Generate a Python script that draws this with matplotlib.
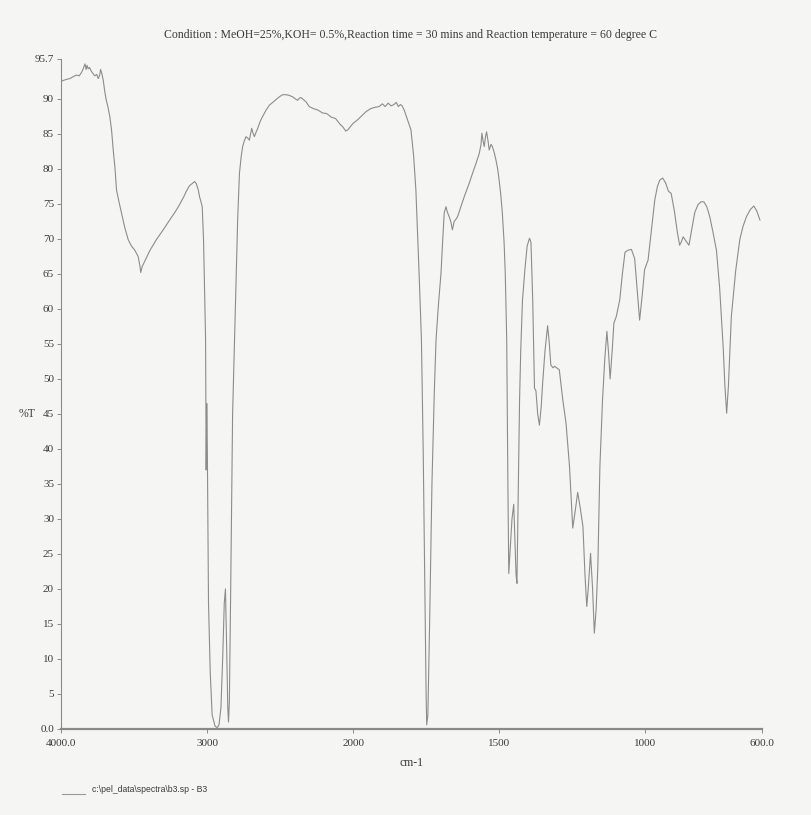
import numpy as np
import matplotlib
matplotlib.use("Agg")
import matplotlib.pyplot as plt
from matplotlib.lines import Line2D

# IR spectrum (wavenumber cm-1, %T)
wavenumber = [3990, 3960, 3939, 3915, 3893, 3875, 3859, 3848, 3836, 3828, 3822, 3814, 3805, 3791,
              3780, 3768, 3755, 3745, 3735, 3729, 3720, 3711, 3700, 3690, 3680, 3666, 3654, 3642,
              3631, 3620, 3603, 3586, 3563, 3540, 3518, 3495, 3472, 3460, 3454, 3445, 3427, 3390,
              3347, 3300, 3256, 3220, 3188, 3160, 3142, 3120, 3097, 3085, 3074, 3060, 3051, 3040,
              3033, 3028, 3024, 3016, 3010, 3006, 3002, 2998, 2990, 2978, 2965, 2945, 2930, 2918,
              2905, 2893, 2882, 2874, 2866, 2858, 2853, 2847, 2838, 2825, 2812, 2801, 2790, 2778,
              2766, 2756, 2745, 2733, 2721, 2710, 2702, 2694, 2685, 2676, 2665, 2653, 2636, 2619,
              2596, 2573, 2550, 2528, 2505, 2483, 2460, 2437, 2414, 2395, 2380, 2368, 2357, 2340,
              2323, 2300, 2270, 2240, 2210, 2180, 2150, 2120, 2090, 2070, 2050, 2035, 2020, 2000,
              1985, 1970, 1955, 1940, 1925, 1911, 1900, 1890, 1880, 1870, 1860, 1852, 1845, 1838,
              1832, 1825, 1815, 1802, 1793, 1785, 1774, 1766, 1760, 1755, 1750, 1748, 1744, 1738,
              1730, 1722, 1716, 1708, 1699, 1693, 1688, 1682, 1677, 1671, 1665, 1660, 1654, 1648,
              1642, 1631, 1618, 1602, 1590, 1579, 1568, 1562, 1559, 1555, 1551, 1547, 1543, 1538,
              1534, 1528, 1523, 1516, 1511, 1505, 1500, 1494, 1489, 1483, 1479, 1474, 1470, 1467,
              1463, 1456, 1450, 1446, 1442, 1439, 1434, 1430, 1426, 1420, 1415, 1411, 1404, 1396,
              1391, 1385, 1379, 1374, 1368, 1362, 1356, 1351, 1343, 1334, 1328, 1323, 1316, 1310,
              1300, 1294, 1282, 1271, 1259, 1248, 1240, 1231, 1222, 1213, 1206, 1200, 1195, 1187,
              1180, 1174, 1168, 1162, 1155, 1146, 1138, 1131, 1125, 1120, 1113, 1107, 1099, 1087,
              1078, 1069, 1058, 1047, 1036, 1028, 1019, 1010, 1002, 990, 978, 967, 958, 950,
              940, 930, 920, 911, 900, 890, 882, 876, 870, 862, 850, 840, 830, 819,
              809, 799, 789, 779, 768, 756, 745, 733, 727, 721, 715, 705, 690, 676,
              665, 653, 640, 628, 618, 607]
transmittance = [92.6, 92.8, 92.9, 93.2, 93.4, 93.3, 93.8, 94.3, 95.0, 94.2, 94.8, 94.3, 94.5, 93.9,
                 93.6, 93.3, 93.5, 92.9, 93.4, 94.2, 93.6, 92.7, 91.0, 89.8, 89.0, 87.5, 85.6, 82.6,
                 80.3, 77.0, 75.3, 73.7, 71.6, 69.9, 69.0, 68.4, 67.5, 66.2, 65.2, 66.0, 66.8, 68.4,
                 69.9, 71.3, 72.7, 73.8, 74.9, 76.0, 76.8, 77.6, 78.0, 78.2, 77.9, 77.0, 76.0, 75.2,
                 74.6, 72.0, 69.9, 62.0, 55.6, 37.0, 46.5, 40.0, 18.0, 8.0, 2.0, 0.4, 0.2, 0.6,
                 3.0, 10.0, 18.0, 20.0, 12.0, 3.0, 1.0, 4.0, 20.0, 45.0, 55.6, 65.1, 73.0, 79.4,
                 81.8, 83.2, 84.0, 84.6, 84.4, 84.1, 85.0, 85.8, 85.1, 84.6, 85.2, 85.8, 86.8, 87.5,
                 88.4, 89.1, 89.5, 89.9, 90.3, 90.6, 90.6, 90.5, 90.3, 90.0, 89.8, 90.1, 90.2, 89.9,
                 89.6, 88.9, 88.6, 88.4, 88.0, 87.9, 87.4, 87.2, 86.4, 86.0, 85.4, 85.6, 86.0, 86.5,
                 87.0, 87.6, 88.2, 88.6, 88.8, 88.9, 89.3, 88.9, 89.4, 89.0, 89.2, 89.5, 88.9, 89.2,
                 89.0, 88.4, 87.2, 85.6, 82.0, 77.0, 65.1, 55.6, 40.0, 22.0, 5.0, 0.6, 2.0, 15.0,
                 35.0, 48.0, 55.6, 60.5, 65.1, 70.0, 73.7, 74.6, 73.8, 73.2, 72.4, 71.3, 72.5, 72.8,
                 73.2, 74.6, 76.2, 78.0, 79.5, 80.8, 82.2, 83.5, 85.1, 84.0, 83.2, 84.5, 85.3, 84.0,
                 82.7, 83.5, 83.2, 82.2, 81.3, 80.0, 78.4, 76.2, 73.7, 69.5, 65.1, 55.6, 35.0, 22.2,
                 25.0, 30.0, 32.1, 27.0, 22.0, 20.8, 35.0, 47.0, 54.1, 61.3, 64.0, 66.0, 69.0, 70.1,
                 69.5, 61.3, 48.7, 48.3, 45.0, 43.4, 46.0, 49.4, 54.0, 57.6, 55.0, 52.0, 51.6, 51.8,
                 51.5, 51.3, 47.0, 43.7, 37.5, 28.7, 31.0, 33.8, 31.5, 28.9, 22.0, 17.5, 20.0, 25.1,
                 20.0, 13.7, 17.0, 23.2, 37.5, 47.0, 53.0, 56.8, 53.5, 50.0, 54.0, 58.0, 58.9, 61.3,
                 65.0, 68.1, 68.4, 68.5, 67.2, 63.0, 58.4, 62.0, 65.6, 67.0, 71.5, 75.6, 77.5, 78.4,
                 78.7, 78.0, 76.8, 76.5, 74.0, 71.0, 69.1, 69.6, 70.3, 69.8, 69.1, 71.5, 73.8, 74.9,
                 75.3, 75.3, 74.6, 73.2, 71.0, 68.4, 63.0, 54.6, 49.0, 45.1, 49.0, 58.9, 65.5, 69.9,
                 71.8, 73.2, 74.2, 74.7, 74.0, 72.7]

x_ticks = [4000, 3000, 2000, 1500, 1000, 600]
x_labels = ["4000.0", "3000", "2000", "1500", "1000", "600.0"]
y_ticks = [0, 5, 10, 15, 20, 25, 30, 35, 40, 45, 50, 55, 60, 65, 70, 75, 80, 85, 90, 95.7]
y_labels = ["0.0"] + [str(v) for v in y_ticks[1:-1]] + ["95.7"]

title = "Condition : MeOH=25%,KOH= 0.5%,Reaction time = 30 mins and Reaction temperature = 60 degree C"
footer = "c:\\pel_data\\spectra\\b3.sp - B3"


# the instrument doubles the scale below 2000 cm-1
def fwd(x):
    x = np.asarray(x, dtype=float)
    return np.where(x >= 2000, x, 2 * x - 2000)


def inv(p):
    p = np.asarray(p, dtype=float)
    return np.where(p >= 2000, p, (p + 2000) / 2)


paper = "#f5f5f4"
ink = "#3a3a3a"
serif = "Liberation Serif"

fig = plt.figure(figsize=(8.12, 8.15), dpi=100, facecolor=paper)
ax = fig.add_axes([61 / 812, 1 - 729 / 815, 701 / 812, 670 / 815])
ax.set_facecolor(paper)

ax.plot(wavenumber, transmittance, color="#8c8c8c", lw=0.8)

ax.set_xscale("function", functions=(fwd, inv))
ax.set_xlim(4000, 600)
ax.set_ylim(0, 95.7)

ax.set_xticks(x_ticks)
ax.set_xticklabels(x_labels)
ax.set_yticks(y_ticks)
ax.set_yticklabels(y_labels)
ax.minorticks_off()

for s in ["top", "right"]:
    ax.spines[s].set_visible(False)
ax.spines["left"].set_color("#8a8a8a")
ax.spines["left"].set_linewidth(0.8)
ax.spines["bottom"].set_color("#8a8a8a")
ax.spines["bottom"].set_linewidth(1.6)

ax.tick_params(axis="both", length=3, width=0.7, color="#8a8a8a",
               labelsize=8, labelcolor=ink)
ax.tick_params(axis="x", pad=4)
ax.tick_params(axis="y", pad=2)
for lab in ax.get_xticklabels() + ax.get_yticklabels():
    lab.set_fontfamily(serif)

ax.set_xlabel("cm-1", fontsize=8.5, family=serif, color=ink, labelpad=7)
ax.set_ylabel("%T", fontsize=8.5, family=serif, color=ink, rotation=0, ha="center", va="center")
ax.yaxis.set_label_coords(-0.048, 45 / 95.7)

fig.text(411 / 812, 1 - 35 / 815, title, ha="center", va="center",
         fontsize=8.5, family=serif, color=ink)

fig.add_artist(Line2D([62 / 812, 85 / 812], [1 - 794 / 815, 1 - 794 / 815],
                      color="#9a9a9a", lw=0.8))
fig.text(92 / 812, 1 - 790 / 815, footer, ha="left", va="center",
         fontsize=6.2, family="Liberation Sans", color=ink)

fig.savefig("out.png", dpi=100, facecolor=paper)
